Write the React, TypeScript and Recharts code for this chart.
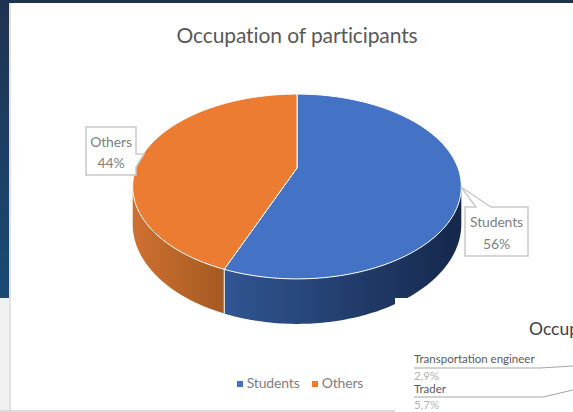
import { PieChart, Pie, Cell, Legend } from 'recharts'

const OCCUPATIONS = ['Students', 'Others']
const SHARES = [56, 44]
const TOP_COLORS = ['#4472c4', '#eb7c31']

// second chart peeking in at the lower right corner
const INSET_TITLE = 'Occup'
const INSET_NAMES = ['Transportation engineer', 'Trader']
const INSET_SHARES = ['2,9%', '5,7%']

const data = OCCUPATIONS.map((name, i) => ({ name, value: SHARES[i] }))

const FONT = 'Lato, "Open Sans", sans-serif'

// wall shading, left to right, per slice
const WALLS: Record<string, { id: string; from: string; to: string; x1: number; x2: number }> = {
  Students: { id: 'wallStudents', from: '#315692', to: '#15284c', x1: 224, x2: 461 },
  Others: { id: 'wallOthers', from: '#cf7030', to: '#a45a22', x1: 133, x2: 224 },
}

// callout outlines run clockwise, pointer included
const CALLOUTS: Record<string, { outline: number[][]; mid: number; lines: number[] }> = {
  Students: {
    outline: [[465, 207], [476, 207], [461, 187], [491, 207], [528, 207], [528, 256], [465, 256]],
    mid: 496.5,
    lines: [227, 249],
  },
  Others: {
    outline: [[86, 127], [136, 127], [136, 154], [144, 154], [136, 167], [136, 175], [86, 175]],
    mid: 111,
    lines: [147, 168],
  },
}

// perspective of the tilted disc
const SQUASH = 0.551
const PERSPECTIVE = 0.2
const DEPTH = 45

function project(cx: number, cy: number, r: number, deg: number) {
  const t = (deg * Math.PI) / 180
  const u = Math.sin(t)
  const v = -Math.cos(t)
  const w = 1 - PERSPECTIVE * v
  return { x: cx + (r * u) / w, y: cy + (r * SQUASH * v) / w, v, w }
}

function TiltedSlice(props: any) {
  const { cx, cy, outerRadius, startAngle, endAngle, fill, name } = props
  const from = 90 - startAngle
  const to = 90 - endAngle
  const steps = Math.ceil(to - from)
  const arc = []
  for (let i = 0; i <= steps; i++) {
    arc.push(project(cx, cy, outerRadius, from + ((to - from) * i) / steps))
  }
  const drop = (p: { w: number }) => (DEPTH * (1 - PERSPECTIVE)) / p.w
  const front = arc.filter(p => p.v >= PERSPECTIVE)
  const lip = front.map(p => `${p.x},${p.y}`)
  const base = front
    .slice()
    .reverse()
    .map(p => `${p.x},${p.y + drop(p)}`)
  // the seam between two walls
  const seams = [arc[0], arc[arc.length - 1]].filter(p => p.v >= PERSPECTIVE)
  const wall = WALLS[name]
  const top = `M${cx},${cy} ` + arc.map(p => `L${p.x},${p.y}`).join(' ') + ' Z'
  return (
    <g>
      <defs>
        <linearGradient id={wall.id} gradientUnits="userSpaceOnUse" x1={wall.x1} x2={wall.x2} y1={0} y2={0}>
          <stop offset="0%" stopColor={wall.from} />
          <stop offset="100%" stopColor={wall.to} />
        </linearGradient>
      </defs>
      <polygon points={[...lip, ...base].join(' ')} fill={`url(#${wall.id})`} />
      {seams.map((p, i) => (
        <line key={i} x1={p.x} y1={p.y} x2={p.x} y2={p.y + drop(p)} stroke="#e6e9f0" strokeWidth={1} />
      ))}
      <path d={top} fill={fill} stroke="#ffffff" strokeWidth={1} strokeLinejoin="round" />
    </g>
  )
}

function renderCallout(props: any) {
  const { name, percent } = props
  const c = CALLOUTS[name]
  return (
    <g fontFamily={FONT} fontSize={14} letterSpacing={-0.15} fill="#7f7f7f" textAnchor="middle">
      <polygon
        points={c.outline.map(p => p.join(',')).join(' ')}
        fill="#fff"
        stroke="#c9c9c9"
        strokeWidth={1.5}
      />
      <text x={c.mid} y={c.lines[0]} stroke="none">{name}</text>
      <text x={c.mid} y={c.lines[1]} stroke="none">{`${Math.round(percent * 100)}%`}</text>
    </g>
  )
}

export default function App() {
  return (
    <div style={{ position: 'absolute', left: 0, top: 0, width: 573, height: 412, overflow: 'hidden', background: '#fff' }}>
      {/* slide behind the chart */}
      <div style={{ position: 'absolute', left: 0, top: 0, width: 573, height: 3, background: '#1f3350' }} />
      <div style={{ position: 'absolute', left: 0, top: 0, width: 9, height: 298, background: 'linear-gradient(#1f3350, #1a4a75)' }} />
      <div style={{ position: 'absolute', left: 0, top: 298, width: 9, height: 114, background: '#f1f1f1' }} />
      <div style={{ position: 'absolute', left: 9, top: 3, width: 2, height: 409, background: '#e2e2e2' }} />
      <div style={{ position: 'absolute', left: 0, top: 410, width: 395, height: 2, background: '#dcdcdc' }} />

      <div style={{ position: 'absolute', left: 0, top: 0 }}>
        <PieChart width={573} height={412} margin={{ top: 0, right: 0, bottom: 0, left: 0 }}>
          <text x={297} y={43} textAnchor="middle" fontFamily={FONT} fontSize={21} letterSpacing={-0.1} fill="#595959">
            Occupation of participants
          </text>
          <Pie
            data={data}
            dataKey="value"
            nameKey="name"
            cx={297}
            cy={168}
            outerRadius={161}
            startAngle={90}
            endAngle={-270}
            stroke="none"
            shape={TiltedSlice}
            label={renderCallout}
            labelLine={false}
            isAnimationActive={false}
          >
            {data.map((d, i) => (
              <Cell key={d.name} fill={TOP_COLORS[i]} />
            ))}
          </Pie>
          <Legend
            iconType="square"
            iconSize={6}
            itemSorter={null}
            wrapperStyle={{ position: 'absolute', left: 205, top: 374, width: 200, bottom: 'auto', fontFamily: FONT, fontSize: 14, letterSpacing: -0.15 }}
            formatter={(value: string, _entry: any, index: number) => (
              <span style={{ color: '#7f7f7f', marginRight: index === 0 ? 2 : 0 }}>{value}</span>
            )}
          />
        </PieChart>
      </div>

      {/* corner of the next chart, lying on top */}
      <svg width={573} height={412} style={{ position: 'absolute', left: 0, top: 0 }}>
        <rect x={395} y={298} width={178} height={114} fill="#fff" />
        <text x={529} y={335} fontFamily={FONT} fontSize={17.5} fill="#404040">{INSET_TITLE}</text>
        <g fontFamily={FONT} fontSize={11.5}>
          <text x={414} y={363} fill="#595959">{INSET_NAMES[0]}</text>
          <text x={414} y={380} fill="#b3b3b3">{INSET_SHARES[0]}</text>
          <text x={414} y={393} fill="#595959">{INSET_NAMES[1]}</text>
          <text x={414} y={409} fill="#b3b3b3">{INSET_SHARES[1]}</text>
        </g>
        <polyline points="414,368 540,368 573,366" fill="none" stroke="#a6a6a6" strokeWidth={1.2} />
        <polyline points="414,397 543,397 573,390" fill="none" stroke="#a6a6a6" strokeWidth={1.2} />
      </svg>
    </div>
  )
}
